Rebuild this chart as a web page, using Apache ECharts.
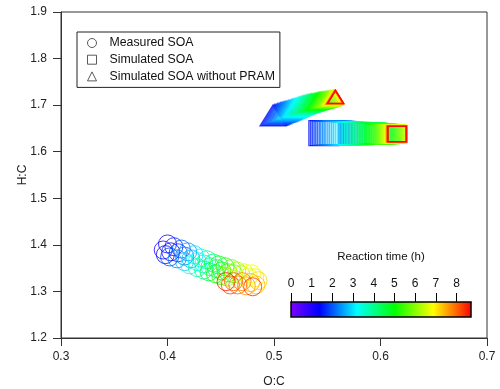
<!DOCTYPE html>
<html>
<head>
<meta charset="utf-8">
<script src="https://cdn.jsdelivr.net/npm/echarts@6/dist/echarts.min.js"></script>
<style>
html, body { margin: 0; padding: 0; background: #fff; }
#container { width: 500px; height: 389px; }
</style>
</head>
<body>
<div id="container"></div>
<script>
// measured SOA (circles): reaction time (h), O:C, H:C
var measTime = [1.0, 1.15, 1.3, 1.45, 1.6, 1.75, 1.9, 2.05, 2.2, 2.35, 2.5, 2.65, 2.8, 2.95, 3.1, 3.25, 3.4,
    3.55, 3.7, 3.85, 4.0, 4.15, 4.3, 4.45, 4.6, 4.75, 4.9, 5.05, 5.2, 5.35, 5.5, 5.65, 5.8, 5.95, 6.1,
    6.25, 6.4, 6.55, 6.7, 6.85, 7.0, 7.15, 7.3, 7.45, 7.6, 7.75, 7.9, 8.05, 8.2, 8.35, 8.5];
var measOC = [0.396, 0.400, 0.403, 0.398, 0.406, 0.410, 0.402, 0.413, 0.416, 0.409, 0.419, 0.422, 0.416,
    0.425, 0.428, 0.421, 0.431, 0.434, 0.428, 0.437, 0.440, 0.434, 0.443, 0.446, 0.439, 0.448, 0.451,
    0.445, 0.454, 0.457, 0.450, 0.460, 0.462, 0.456, 0.465, 0.469, 0.462, 0.472, 0.476, 0.479, 0.482,
    0.485, 0.483, 0.478, 0.474, 0.470, 0.466, 0.462, 0.459, 0.480, 0.455];
var measHC = [1.389, 1.402, 1.385, 1.379, 1.396, 1.383, 1.374, 1.391, 1.376, 1.370, 1.385, 1.370, 1.364,
    1.379, 1.364, 1.357, 1.372, 1.359, 1.351, 1.368, 1.353, 1.346, 1.361, 1.349, 1.342, 1.357, 1.344,
    1.338, 1.353, 1.340, 1.334, 1.349, 1.338, 1.331, 1.344, 1.336, 1.327, 1.340, 1.331, 1.338, 1.329,
    1.323, 1.314, 1.319, 1.312, 1.321, 1.314, 1.321, 1.314, 1.310, 1.321];

// simulated runs, shared time steps
var simTime = [1.5, 1.6, 1.7, 1.8, 1.9, 2.0, 2.1, 2.2, 2.3, 2.4, 2.5, 2.6, 2.7, 2.8, 2.9, 3.0, 3.1, 3.2,
    3.3, 3.4, 3.5, 3.6, 3.7, 3.8, 3.9, 4.0, 4.1, 4.2, 4.3, 4.4, 4.5, 4.6, 4.7, 4.8, 4.9, 5.0, 5.1, 5.2,
    5.3, 5.4, 5.5, 5.6, 5.7, 5.8, 5.9, 6.0, 6.1, 6.2, 6.3, 6.4, 6.5, 6.7, 6.9, 7.1, 7.3, 7.5, 7.7, 7.9,
    8.1, 8.3, 8.5, 8.7];
var simOC = [0.5469, 0.5485, 0.5500, 0.5515, 0.5530, 0.5545, 0.5561, 0.5575, 0.5591, 0.5605, 0.5620,
    0.5638, 0.5654, 0.5671, 0.5687, 0.5704, 0.5722, 0.5738, 0.5756, 0.5772, 0.5789, 0.5804, 0.5817,
    0.5832, 0.5845, 0.5859, 0.5874, 0.5887, 0.5902, 0.5915, 0.5930, 0.5941, 0.5952, 0.5963, 0.5975,
    0.5986, 0.5997, 0.6008, 0.6020, 0.6031, 0.6042, 0.6053, 0.6063, 0.6072, 0.6082, 0.6090, 0.6099,
    0.6106, 0.6114, 0.6121, 0.6128, 0.6137, 0.6144, 0.6147, 0.6150, 0.6152, 0.6153, 0.6154, 0.6155,
    0.6155, 0.6155, 0.6155];
var simHC = [1.640, 1.640, 1.640, 1.640, 1.640, 1.640, 1.640, 1.640, 1.640, 1.640, 1.640, 1.640,
    1.639, 1.639, 1.639, 1.639, 1.639, 1.639, 1.639, 1.639, 1.639, 1.639, 1.639, 1.639, 1.639, 1.639,
    1.639, 1.639, 1.639, 1.639, 1.639, 1.639, 1.639, 1.638, 1.638, 1.638, 1.638, 1.638, 1.638, 1.638,
    1.638, 1.638, 1.638, 1.638, 1.638, 1.638, 1.638, 1.638, 1.638, 1.638, 1.638, 1.638, 1.638, 1.638,
    1.638, 1.638, 1.638, 1.638, 1.638, 1.638, 1.638, 1.638];
var noPramOC = [0.4991, 0.5005, 0.5019, 0.5033, 0.5047, 0.5061, 0.5075, 0.5086, 0.5099, 0.5111, 0.5122,
    0.5136, 0.5150, 0.5162, 0.5174, 0.5186, 0.5197, 0.5208, 0.5221, 0.5233, 0.5244, 0.5255, 0.5268,
    0.5280, 0.5291, 0.5302, 0.5315, 0.5327, 0.5338, 0.5347, 0.5357, 0.5368, 0.5380, 0.5393, 0.5404,
    0.5413, 0.5423, 0.5432, 0.5441, 0.5451, 0.5460, 0.5469, 0.5479, 0.5488, 0.5498, 0.5507, 0.5516,
    0.5524, 0.5531, 0.5535, 0.5540, 0.5549, 0.5556, 0.5562, 0.5566, 0.5570, 0.5573, 0.5575, 0.5576,
    0.5577, 0.5578, 0.5578];
var noPramHC = [1.6779, 1.6790, 1.6800, 1.6813, 1.6824, 1.6835, 1.6846, 1.6854, 1.6863, 1.6871, 1.6880,
    1.6891, 1.6901, 1.6912, 1.6923, 1.6931, 1.6940, 1.6951, 1.6961, 1.6972, 1.6983, 1.6991, 1.7000,
    1.7009, 1.7017, 1.7026, 1.7032, 1.7041, 1.7047, 1.7054, 1.7058, 1.7064, 1.7071, 1.7077, 1.7084,
    1.7090, 1.7094, 1.7099, 1.7103, 1.7107, 1.7112, 1.7116, 1.7120, 1.7124, 1.7129, 1.7133, 1.7137,
    1.7142, 1.7144, 1.7148, 1.7150, 1.7155, 1.7159, 1.7163, 1.7167, 1.7170, 1.7172, 1.7174, 1.7174,
    1.7176, 1.7176, 1.7176];

// colour bar
var barTicks = [0, 1, 2, 3, 4, 5, 6, 7, 8];
var timeMax = 8.7;

var FONT = '"Liberation Sans", Arial, sans-serif';
var colorStops = [[0, '#8000ff'], [1.4, '#0000ff'], [3.2, '#00ffff'], [5.0, '#00ff00'], [6.85, '#ffff00'], [8.7, '#ff0000']];

function hex(c) {
    return [parseInt(c.substr(1, 2), 16), parseInt(c.substr(3, 2), 16), parseInt(c.substr(5, 2), 16)];
}
function colorAt(t) {
    for (var i = 1; i < colorStops.length; i++) {
        if (t <= colorStops[i][0] || i == colorStops.length - 1) {
            var a = colorStops[i - 1], b = colorStops[i];
            var f = Math.max(0, Math.min(1, (t - a[0]) / (b[0] - a[0])));
            var ca = hex(a[1]), cb = hex(b[1]);
            return 'rgb(' + ca.map(function (v, k) { return Math.round(v + (cb[k] - v) * f); }).join(',') + ')';
        }
    }
}
function points(xs, ys, ts) {
    return xs.map(function (x, i) {
        return { value: [x, ys[i], ts[i]], itemStyle: { borderColor: colorAt(ts[i]) } };
    });
}
// simulated markers get smaller with time
function shrink(t) { return 1 - 0.055 * (t - 1.5); }

var legendIcon = { color: 'rgba(0,0,0,0)', borderColor: '#333', borderWidth: 1 };

var dom = document.getElementById('container');
var myChart = echarts.init(dom);
var option = {
    animation: false,
    textStyle: { fontFamily: FONT },
    legend: {
        orient: 'vertical',
        left: 77,
        top: 32,
        padding: [5, 5, 5, 10],
        itemGap: 4.7,
        itemWidth: 9,
        itemHeight: 9,
        borderColor: '#222',
        borderWidth: 1,
        backgroundColor: '#fff',
        selectedMode: false,
        textStyle: { fontFamily: FONT, fontSize: 12.3, color: '#111', padding: [0, 0, 0, 8] },
        data: [
            { name: 'Measured SOA', icon: 'circle', itemStyle: legendIcon },
            { name: 'Simulated SOA', icon: 'rect', itemStyle: legendIcon },
            { name: 'Simulated SOA without PRAM', icon: 'triangle', itemStyle: legendIcon }
        ]
    },
    grid: [
        { left: 61, right: 13, top: 12, bottom: 51, show: true, borderColor: '#333', borderWidth: 1, outerBoundsMode: 'none' },
        { left: 291, width: 180, top: 302, height: 15, outerBoundsMode: 'none' }
    ],
    xAxis: [
        {
            gridIndex: 0, type: 'value', min: 0.3, max: 0.7, interval: 0.1,
            name: 'O:C', nameLocation: 'middle', nameGap: 38, nameMoveOverlap: false,
            nameTextStyle: { fontFamily: FONT, fontSize: 12, color: '#222' },
            axisLine: { onZero: false, lineStyle: { color: '#333' } },
            axisTick: { length: 8, lineStyle: { color: '#333' } },
            axisLabel: { margin: 13, fontFamily: FONT, fontSize: 12, color: '#222', formatter: function (v) { return v.toFixed(1); } },
            splitLine: { show: false }
        },
        {
            gridIndex: 1, type: 'value', min: 0, max: timeMax, position: 'top',
            name: 'Reaction time (h)', nameLocation: 'middle', nameGap: 39, nameMoveOverlap: false,
            nameTextStyle: { fontFamily: FONT, fontSize: 11.5, color: '#111' },
            axisLine: { show: true, onZero: false, lineStyle: { color: '#000' } },
            axisTick: { show: true, inside: false, length: 9, customValues: barTicks, lineStyle: { color: '#000', width: 1 } },
            axisLabel: { show: true, margin: 12, customValues: barTicks, fontFamily: FONT, fontSize: 12, color: '#111' },
            splitLine: { show: false }
        }
    ],
    yAxis: [
        {
            gridIndex: 0, type: 'value', min: 1.2, max: 1.9, interval: 0.1,
            name: 'H:C', nameLocation: 'middle', nameGap: 32, nameMoveOverlap: false,
            nameTextStyle: { fontFamily: FONT, fontSize: 12, color: '#222' },
            axisLine: { onZero: false, lineStyle: { color: '#333' } },
            axisTick: { length: 8, lineStyle: { color: '#333' } },
            axisLabel: { margin: 14, fontFamily: FONT, fontSize: 12, color: '#222', formatter: function (v) { return v.toFixed(1); } },
            splitLine: { show: false }
        },
        { gridIndex: 1, type: 'value', min: 0, max: 1, show: false }
    ],
    series: [
        {
            name: 'Measured SOA', type: 'scatter', xAxisIndex: 0, yAxisIndex: 0,
            symbol: 'circle', symbolSize: 18,
            itemStyle: { color: 'rgba(0,0,0,0)', borderWidth: 1 },
            emphasis: { disabled: true },
            data: points(measOC, measHC, measTime)
        },
        {
            name: 'Simulated SOA without PRAM', type: 'scatter', xAxisIndex: 0, yAxisIndex: 0,
            symbol: 'triangle',
            symbolSize: function (v) { var s = shrink(v[2]); return [26 * s, 21 * s]; },
            itemStyle: { color: 'rgba(0,0,0,0)', borderWidth: 1.3 },
            emphasis: { disabled: true },
            data: points(noPramOC, noPramHC, simTime)
        },
        {
            name: 'Simulated SOA', type: 'scatter', xAxisIndex: 0, yAxisIndex: 0,
            symbol: 'rect',
            symbolSize: function (v) { var s = shrink(v[2]); return [30 * s, 25 * s]; },
            itemStyle: { color: 'rgba(0,0,0,0)', borderWidth: 1.3 },
            emphasis: { disabled: true },
            data: points(simOC, simHC, simTime)
        },
        {
            type: 'custom', xAxisIndex: 1, yAxisIndex: 1, silent: true, z: 1,
            data: [[0, 0, timeMax, 1]],
            renderItem: function (params, api) {
                var p0 = api.coord([api.value(0), api.value(3)]);
                var p1 = api.coord([api.value(2), api.value(1)]);
                return {
                    type: 'rect',
                    shape: { x: p0[0], y: p0[1], width: p1[0] - p0[0], height: p1[1] - p0[1] },
                    style: {
                        fill: new echarts.graphic.LinearGradient(0, 0, 1, 0, colorStops.map(function (s) {
                            return { offset: s[0] / timeMax, color: s[1] };
                        })),
                        stroke: '#000',
                        lineWidth: 1.5
                    }
                };
            }
        }
    ]
};
myChart.setOption(option);
</script>
</body>
</html>
